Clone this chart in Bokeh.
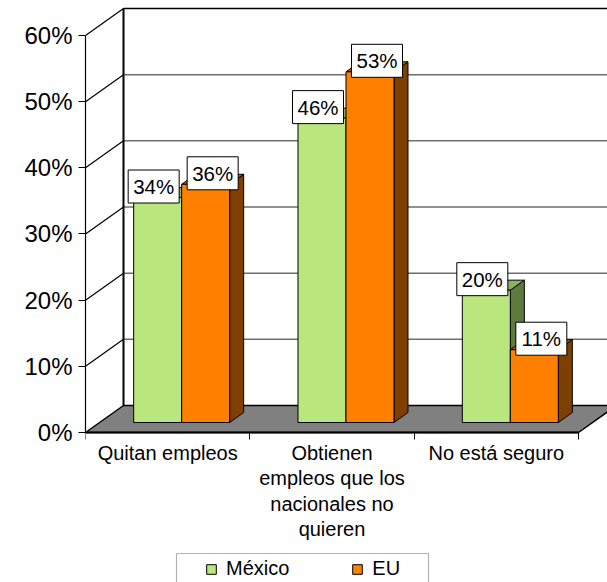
from bokeh.plotting import figure
from bokeh.models import (FixedTicker, PrintfTickFormatter, Legend, LegendItem, Range1d,
                          BoxAnnotation)
from bokeh.embed import file_html
from bokeh.resources import INLINE
from bokeh.core.properties import value

# ---------------- data ----------------
categories = ["Quitan empleos",
              "Obtienen\nempleos que los\nnacionales no\nquieren",
              "No está seguro"]
series = ["México", "EU"]
mexico = [34, 46, 20]
eu = [36, 53, 11]
y_ticks = [0, 10, 20, 30, 40, 50, 60]
value_labels_mexico = ["34%", "46%", "20%"]
value_labels_eu = ["36%", "53%", "11%"]

# ---------------- geometry (pixels -> data units) ----------------
SX = 164.33          # px per category unit
SY = 6.617           # px per percent
W, H = 607, 582
LEFT_BORDER = 85
FLOOR_PX = 432       # pixel row of the front floor edge (value 0)
X_END = (W - LEFT_BORDER) / SX
Y_START, Y_END = -(H - FLOOR_PX) / SY, FLOOR_PX / SY
DEPTH_X, DEPTH_Y = 38 / SX, 27 / SY      # full floor depth
OFF_X, OFF_Y = 14 / SX, 10 / SY          # bar front-face depth
BAR_DX, BAR_DY = 14 / SX, 10 / SY        # bar own depth
BAR_W = 48 / SX
N = len(categories)
TOP = y_ticks[-1]

FONT = value("Liberation Sans")

p = figure(width=W, height=H, x_range=Range1d(0, X_END), y_range=Range1d(Y_START, Y_END),
           output_backend="svg", toolbar_location=None,
           min_border_left=LEFT_BORDER, min_border_right=0, min_border_top=0, min_border_bottom=0)
p.background_fill_color = "white"
p.border_fill_color = "white"
p.outline_line_color = None
p.xgrid.visible = False
p.ygrid.visible = False

# ---------------- walls ----------------
grid_vals = y_ticks[1:-1]
p.segment(x0=[DEPTH_X] * len(grid_vals), x1=[X_END + 1] * len(grid_vals),
          y0=[v + DEPTH_Y for v in grid_vals], y1=[v + DEPTH_Y for v in grid_vals],
          line_color="#6e6e6e", line_width=1.5)
p.segment(x0=[DEPTH_X], x1=[X_END + 1], y0=[TOP + DEPTH_Y], y1=[TOP + DEPTH_Y],
          line_color="black", line_width=1.5)
side_vals = y_ticks[1:]
p.segment(x0=[0] * len(side_vals), x1=[DEPTH_X] * len(side_vals),
          y0=side_vals, y1=[v + DEPTH_Y for v in side_vals],
          line_color="black", line_width=1.2)
p.segment(x0=[DEPTH_X], x1=[DEPTH_X], y0=[DEPTH_Y], y1=[TOP + DEPTH_Y],
          line_color="black", line_width=2)

# floor
p.patch(x=[0, N, N + DEPTH_X, DEPTH_X], y=[0, 0, DEPTH_Y, DEPTH_Y],
        fill_color="#808080", line_color="black", line_width=1.5)

# ---------------- bars ----------------
centers = [i + 0.5 + OFF_X for i in range(N)]
styles = {
    "México": dict(front="#B9E67D", top="#8DB060", side="#5E7A3E"),
    "EU": dict(front="#FF8000", top="#C06000", side="#7F3F00"),
}
renderers = {}
for i in range(N):
    for name, vals in (("México", mexico), ("EU", eu)):
        v = vals[i]
        if name == "México":
            left, right = centers[i] - BAR_W, centers[i]
        else:
            left, right = centers[i], centers[i] + BAR_W
        b, t = OFF_Y, OFF_Y + v
        st = styles[name]
        p.patch(x=[right, right + BAR_DX, right + BAR_DX, right],
                y=[b, b + BAR_DY, t + BAR_DY, t],
                fill_color=st["side"], line_color="black", line_width=1)
        p.patch(x=[left, right, right + BAR_DX, left + BAR_DX],
                y=[t, t, t + BAR_DY, t + BAR_DY],
                fill_color=st["top"], line_color="black", line_width=1)
        r = p.quad(left=[left], right=[right], bottom=[b], top=[t],
                   fill_color=st["front"], line_color="black", line_width=1)
        renderers.setdefault(name, r)

# ---------------- value labels ----------------
lab_x, lab_y, lab_t = [], [], []
for i in range(N):
    lab_x.append(centers[i] - BAR_W / 2 - 4 / SX)
    lab_y.append(OFF_Y + mexico[i] + 11 / SY)
    lab_t.append(value_labels_mexico[i])
    lab_x.append(centers[i] + BAR_W / 2 + 7 / SX)
    lab_y.append(OFF_Y + eu[i] + 11 / SY)
    lab_t.append(value_labels_eu[i])
p.rect(x=lab_x, y=lab_y, width=51, height=33, width_units="screen", height_units="screen",
       fill_color="white", line_color="black", line_width=1)
p.text(x=lab_x, y=lab_y, text=lab_t, text_align="center", text_baseline="middle",
       text_font=FONT, text_font_size="20.5px", text_color="black")

# ---------------- axes ----------------
p.yaxis.ticker = FixedTicker(ticks=y_ticks, minor_ticks=[])
p.yaxis.formatter = PrintfTickFormatter(format="%d%%")
p.yaxis.bounds = (0, TOP)
p.yaxis.axis_line_color = "black"
p.yaxis.axis_line_width = 1.2
p.yaxis.major_tick_in = 0
p.yaxis.major_tick_out = 7
p.yaxis.major_tick_line_color = "black"
p.yaxis.major_label_standoff = 6
p.yaxis.major_label_text_font = "Liberation Sans"
p.yaxis.major_label_text_font_size = "24px"
p.yaxis.major_label_text_color = "black"

p.xaxis.fixed_location = 0
p.xaxis.ticker = FixedTicker(ticks=[i + 0.5 for i in range(N)], minor_ticks=list(range(N + 1)))
p.xaxis.major_label_overrides = {i + 0.5: categories[i] for i in range(N)}
p.xaxis.bounds = (0, N)
p.xaxis.axis_line_color = "black"
p.xaxis.axis_line_width = 2
p.xaxis.major_tick_in = 0
p.xaxis.major_tick_out = 0
p.xaxis.minor_tick_in = 0
p.xaxis.minor_tick_out = 7
p.xaxis.minor_tick_line_color = "black"
p.xaxis.major_label_standoff = 2
p.xaxis.major_label_text_font = "Liberation Sans"
p.xaxis.major_label_text_font_size = "20px"
p.xaxis.major_label_text_color = "black"
p.xaxis.major_label_text_line_height = 1.165
p.xaxis.major_label_orientation = "horizontal"

# ---------------- legend ----------------
legend = Legend(items=[LegendItem(label=s, renderers=[renderers[s]]) for s in series],
                orientation="horizontal", location=(120, 2),
                padding=6, margin=0, spacing=62, label_standoff=9,
                glyph_width=12, glyph_height=12,
                border_line_color=None, background_fill_alpha=0,
                label_text_font="Liberation Sans", label_text_font_size="20px",
                label_text_color="black")
p.add_layout(legend, "center")
p.add_layout(BoxAnnotation(left=(176 - LEFT_BORDER) / SX, right=(428 - LEFT_BORDER) / SX,
                           top=-(553 - FLOOR_PX) / SY, bottom=-(600 - FLOOR_PX) / SY,
                           fill_alpha=0, line_color="black", line_width=1.2))

open("out.html", "w").write(file_html(p, INLINE))
